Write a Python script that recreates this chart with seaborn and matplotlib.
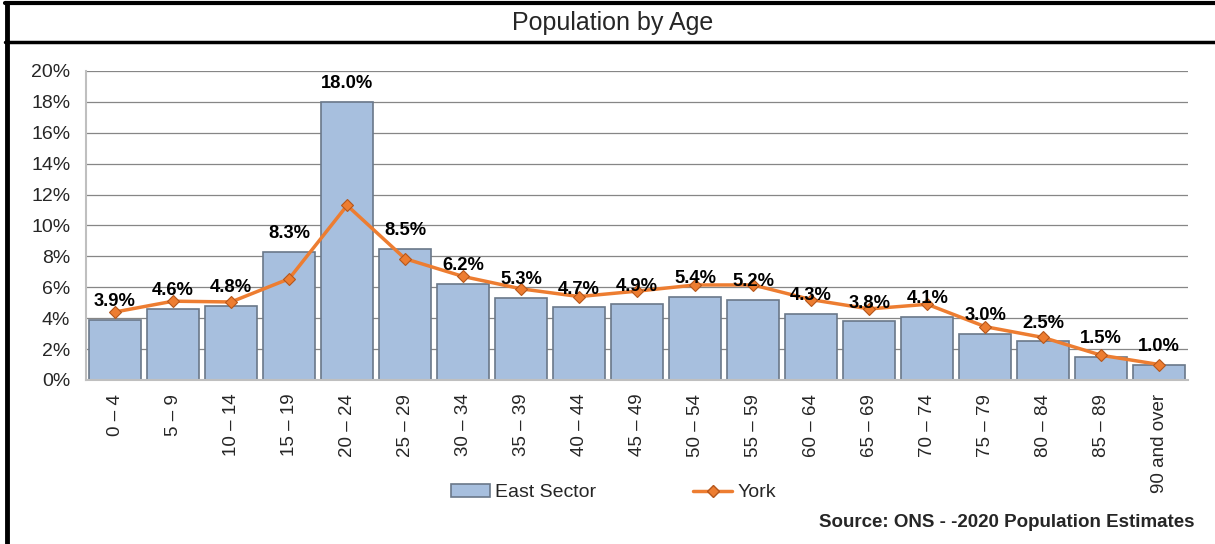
import pandas as pd
import seaborn as sns
import matplotlib.pyplot as plt
from matplotlib.lines import Line2D
from matplotlib.patches import Patch
from matplotlib.ticker import FixedLocator

# Data
age_bands = ["0 – 4", "5 – 9", "10 – 14", "15 – 19", "20 – 24", "25 – 29",
             "30 – 34", "35 – 39", "40 – 44", "45 – 49", "50 – 54", "55 – 59",
             "60 – 64", "65 – 69", "70 – 74", "75 – 79", "80 – 84", "85 – 89",
             "90 and over"]
east_sector = [3.9, 4.6, 4.8, 8.3, 18.0, 8.5, 6.2, 5.3, 4.7, 4.9, 5.4, 5.2,
               4.3, 3.8, 4.1, 3.0, 2.5, 1.5, 1.0]
york = [4.4, 5.1, 5.05, 6.55, 11.3, 7.85, 6.7, 5.9, 5.4, 5.75, 6.15, 6.15,
        5.2, 4.6, 4.9, 3.45, 2.75, 1.6, 1.0]
y_ticks = [0, 2, 4, 6, 8, 10, 12, 14, 16, 18, 20]

df = pd.DataFrame({"age": age_bands, "east": east_sector, "york": york,
                   "pos": range(len(age_bands))})

sns.set_theme(style="white")
plt.rcParams["font.family"] = ["Liberation Sans", "DejaVu Sans"]

bar_color = "#A7BFDE"
bar_edge = "#6A7889"
line_color = "#ED7D31"

fig = plt.figure(figsize=(12.15, 5.44), dpi=100)
ax = fig.add_axes([0.0708, 0.3015, 0.9072, 0.5680])

sns.barplot(data=df, x="age", y="east", color=bar_color, saturation=1,
            width=0.9, edgecolor=bar_edge, linewidth=1.2, ax=ax, zorder=2)
ax.plot(df["pos"], df["york"], color=line_color, lw=2.5, marker="D",
        markersize=6.5, markerfacecolor=line_color, markeredgecolor="#B5561B",
        markeredgewidth=0.8, zorder=4)

for i, v in enumerate(east_sector):
    ax.annotate(f"{v:.1f}%", (i, v), xytext=(0, 7), textcoords="offset points",
                ha="center", va="bottom", fontsize=13.2, fontweight="bold",
                color="black", zorder=5)

ax.set_ylim(0, 20)
ax.set_xlim(-0.5, len(age_bands) - 0.5)
ax.set_yticks(y_ticks)
ax.set_yticklabels([f"{t}%" for t in y_ticks], fontsize=14)
ax.yaxis.grid(True, color="#868686", lw=0.9, zorder=0)
ax.set_axisbelow(True)
ax.set_xlabel("")
ax.set_ylabel("")
ax.set_xticks(range(len(age_bands)))
ax.set_xticklabels(age_bands, rotation=90, fontsize=13.5)
ax.tick_params(axis="x", which="major", length=0, pad=10)
ax.xaxis.set_minor_locator(FixedLocator([i - 0.5 for i in range(len(age_bands) + 1)]))
ax.tick_params(axis="x", which="minor", length=5, color="#BFBFBF", width=1.2)
ax.tick_params(axis="y", length=4.3, color="#BFBFBF", width=1.2, pad=7)
for s in ["top", "right"]:
    ax.spines[s].set_visible(False)
ax.spines["left"].set_color("#BFBFBF")
ax.spines["left"].set_linewidth(1.5)
ax.spines["bottom"].set_color("#BFBFBF")
ax.spines["bottom"].set_linewidth(1.5)

# Legend
handles = [Patch(facecolor=bar_color, edgecolor=bar_edge, lw=1.2),
           Line2D([0], [0], color=line_color, lw=2.5, marker="D", markersize=6,
                  markerfacecolor=line_color, markeredgecolor="#B5561B")]
fig.legend(handles, ["East Sector", "York"], loc="center",
           bbox_to_anchor=(0.505, 0.094), ncol=2, frameon=False, fontsize=14,
           handlelength=2.0, handletextpad=0.25, columnspacing=5.0,
           handleheight=0.6)

# Title and source
fig.text(0.504, 0.957, "Population by Age", ha="center", va="center", fontsize=18)
fig.text(0.9835, 0.04, "Source: ONS - -2020 Population Estimates", ha="right",
         va="center", fontsize=13.5, fontweight="bold")

# Frame lines like the original chart box
fig.add_artist(Line2D([0.0058, 0.0058], [0, 0.995], color="black", lw=3.5))
fig.add_artist(Line2D([0.0045, 1.0], [0.994, 0.994], color="black", lw=3))
fig.add_artist(Line2D([0.0045, 1.0], [0.923, 0.923], color="black", lw=2.5))

plt.savefig("out.png", dpi=100)
